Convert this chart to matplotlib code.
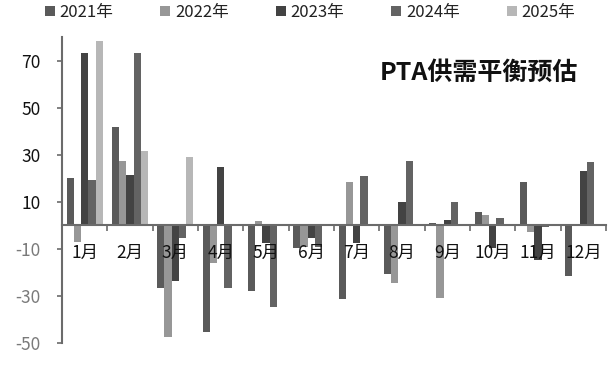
import matplotlib
matplotlib.use("Agg")
import matplotlib.pyplot as plt
from matplotlib.patches import Patch
import numpy as np

plt.rcParams['font.family'] = ['Noto Sans CJK SC', 'DejaVu Sans']

months = ["1月", "2月", "3月", "4月", "5月", "6月", "7月", "8月", "9月", "10月", "11月", "12月"]
series_names = ["2021年", "2022年", "2023年", "2024年", "2025年"]
v2021 = [20, 42, -26.5, -45.5, -28, -9.5, -31.5, -20.5, 0.8, 5.7, 18.4, -21.5]
v2022 = [-7, 27.3, -47.5, -15.8, 2, -9, 18.4, -24.4, -31, 4.3, -3, 0]
v2023 = [73.4, 21.2, -23.5, 25, -7.3, -5.5, -7.4, 10, 2.2, -9.8, -14.8, 23]
v2024 = [19.4, 73.4, -5.2, -26.7, -34.5, -9, 21, 27.3, 9.9, 3.2, -0.6, 27]
v2025 = [78.5, 31.7, 29, 0, 0, 0, 0, 0, 0, 0, 0, 0]
title_text = "PTA供需平衡预估"

colors = ["#5a5a5a", "#979797", "#434343", "#636363", "#b7b7b7"]
data = [v2021, v2022, v2023, v2024, v2025]

fig = plt.figure(figsize=(6.14, 3.68), dpi=100)
ax = fig.add_axes([0.101, 0.068, 0.886, 0.831])

x = np.arange(len(months))
w = 0.16
for i, (vals, c) in enumerate(zip(data, colors)):
    ax.bar(x + (i - 2) * w, vals, width=w, color=c, linewidth=0)

ax.set_xlim(-0.5, len(months) - 0.5)
ax.set_ylim(-50, 80)
ax.set_yticks([-50, -30, -10, 10, 30, 50, 70])
ax.set_yticklabels(["-50", "-30", "-10", "10", "30", "50", "70"])
for lbl in ax.get_yticklabels():
    if lbl.get_text().startswith("-"):
        lbl.set_color("#7a7a7a")
    else:
        lbl.set_color("#111111")
ax.tick_params(axis='y', direction='out', length=3.6, width=1.2, color="#6b6b6b",
               labelsize=12.5, pad=12)

ax.spines['top'].set_visible(False)
ax.spines['right'].set_visible(False)
ax.spines['left'].set_color("#6b6b6b")
ax.spines['left'].set_linewidth(1.5)
ax.spines['bottom'].set_position(('data', 0))
ax.spines['bottom'].set_color("#6b6b6b")
ax.spines['bottom'].set_linewidth(1.5)

ax.set_xticks(x)
ax.set_xticklabels(months)
ax.set_xticks(np.arange(-0.5, len(months) + 0.5, 1), minor=True)
ax.tick_params(axis='x', which='major', length=0, labelsize=12.5, pad=13, labelcolor="#111111")
ax.tick_params(axis='x', which='minor', length=4, width=1.2, color="#6b6b6b", direction='out')

ax.text(0.949, 0.882, title_text, transform=ax.transAxes, ha='right', va='center',
        fontsize=18, fontweight='bold', color="#111111")

handles = [Patch(facecolor=c, edgecolor='none') for c in colors]
fig.legend(handles, series_names, loc='center left', bbox_to_anchor=(0.062, 0.966),
           borderaxespad=0, ncol=5, frameon=False, fontsize=12, handlelength=0.6,
           handleheight=0.6, handletextpad=0.3, columnspacing=2.8, labelcolor="#222222")

fig.savefig("out.png", dpi=100)
